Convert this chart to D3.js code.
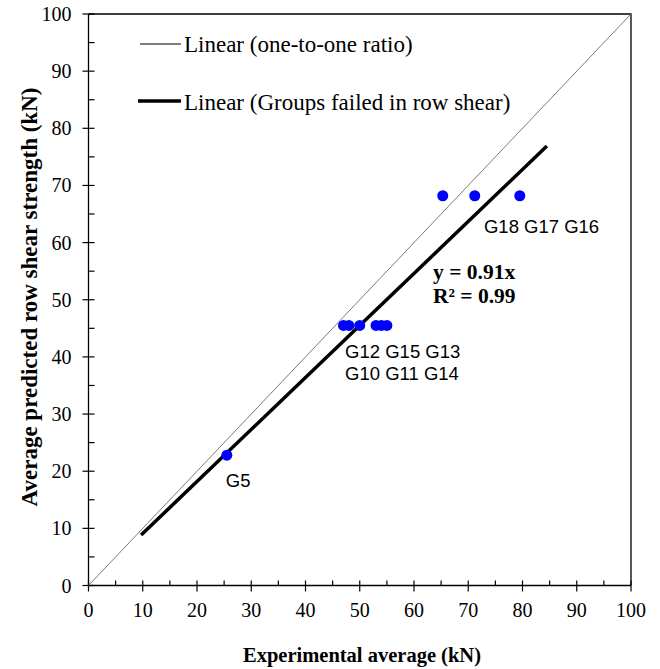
<!DOCTYPE html>
<html>
<head>
<meta charset="utf-8">
<script src="https://cdn.jsdelivr.net/npm/d3@7"></script>
<style>
  body { margin: 0; background: #fff; }
  svg text { fill: #000; }
</style>
</head>
<body>
<svg id="chart" width="660" height="669"></svg>
<script>
// experimental average (kN) vs average predicted row shear strength (kN)
var expValues  = [25.5, 47, 48, 50, 53, 54, 55, 65.3, 71.2, 79.5];
var predValues = [22.8, 45.5, 45.5, 45.5, 45.5, 45.5, 45.5, 68.2, 68.2, 68.2];
var groupLabels = [
  { text: "G5", x: 25.3, y: 22.8 },
  { text: "G12 G15 G13", x: 47.3, y: 45.5 },
  { text: "G10 G11 G14", x: 47.3, y: 45.5 },
  { text: "G18 G17 G16", x: 72.9, y: 68.2 }
];
var oneToOne = [0, 100];
var fitSlope = 0.91;
var fitRange = [9.7, 84.5];
var tickValues = [0, 10, 20, 30, 40, 50, 60, 70, 80, 90, 100];
var minorTicks = d3.range(5, 100, 10);

var serif = "'Liberation Serif', 'Times New Roman', serif";
var svg = d3.select("#chart");
var x = d3.scaleLinear().domain([0, 100]).range([88.5, 631]);
var y = d3.scaleLinear().domain([0, 100]).range([585.5, 14]);

// frame (top and right)
svg.append("path")
    .attr("d", "M" + x(0) + "," + y(100) + "H" + x(100) + "V" + y(0))
    .attr("fill", "none")
    .attr("stroke", "#000")
    .attr("stroke-width", 1.3);

// axes
var xAxis = svg.append("g").attr("transform", "translate(0," + y(0) + ")");
xAxis.append("line").attr("x1", x(0)).attr("x2", x(100)).attr("stroke", "#000").attr("stroke-width", 1.3);
xAxis.selectAll(".maj").data(tickValues).enter().append("line")
    .attr("x1", d => x(d)).attr("x2", d => x(d)).attr("y1", -5).attr("y2", 6)
    .attr("stroke", "#000").attr("stroke-width", 1.2);
xAxis.selectAll(".min").data(minorTicks).enter().append("line")
    .attr("x1", d => x(d)).attr("x2", d => x(d)).attr("y1", -5).attr("y2", 0)
    .attr("stroke", "#000").attr("stroke-width", 1.2);
xAxis.selectAll("text").data(tickValues).enter().append("text")
    .attr("x", d => x(d)).attr("y", 31.5)
    .attr("text-anchor", "middle")
    .style("font-family", serif)
    .style("font-size", "20px")
    .text(d => d);

var yAxis = svg.append("g").attr("transform", "translate(" + x(0) + ",0)");
yAxis.append("line").attr("y1", y(0)).attr("y2", y(100)).attr("stroke", "#000").attr("stroke-width", 1.3);
yAxis.selectAll(".maj").data(tickValues).enter().append("line")
    .attr("y1", d => y(d)).attr("y2", d => y(d)).attr("x1", -6).attr("x2", 6)
    .attr("stroke", "#000").attr("stroke-width", 1.2);
yAxis.selectAll(".min").data(minorTicks).enter().append("line")
    .attr("y1", d => y(d)).attr("y2", d => y(d)).attr("x1", 0).attr("x2", 6)
    .attr("stroke", "#000").attr("stroke-width", 1.2);
yAxis.selectAll("text").data(tickValues).enter().append("text")
    .attr("x", -17).attr("y", d => y(d) + 7)
    .attr("text-anchor", "end")
    .style("font-family", serif)
    .style("font-size", "20px")
    .text(d => d);

// one-to-one line
svg.append("line")
    .attr("x1", x(oneToOne[0])).attr("y1", y(oneToOne[0]))
    .attr("x2", x(oneToOne[1])).attr("y2", y(oneToOne[1]))
    .attr("stroke", "#7a7a7a").attr("stroke-width", 1);

// fitted line y = 0.91x
svg.append("line")
    .attr("x1", x(fitRange[0])).attr("y1", y(fitRange[0] * fitSlope))
    .attr("x2", x(fitRange[1])).attr("y2", y(fitRange[1] * fitSlope))
    .attr("stroke", "#000").attr("stroke-width", 3.5);

// points
svg.selectAll(".pt").data(expValues).enter().append("circle")
    .attr("cx", d => x(d))
    .attr("cy", (d, i) => y(predValues[i]))
    .attr("r", 5.5)
    .attr("fill", "#0000ff");

// group labels
var labelDy = [31.5, 32.5, 55, 37.5];
svg.selectAll(".glab").data(groupLabels).enter().append("text")
    .attr("x", d => x(d.x))
    .attr("y", (d, i) => y(d.y) + labelDy[i])
    .style("font-family", "'Liberation Sans', Arial, sans-serif")
    .style("font-size", "18.5px")
    .text(d => d.text);

// equation
var eq = svg.append("g")
    .style("font-family", serif)
    .style("font-size", "21.5px")
    .style("font-weight", "bold");
eq.append("text").attr("x", 433).attr("y", 278.5).text("y = 0.91x");
eq.append("text").attr("x", 433).attr("y", 302.5).text("R² = 0.99");

// legend
var legend = svg.append("g")
    .style("font-family", serif)
    .style("font-size", "23px");
legend.append("line").attr("x1", 140).attr("x2", 181).attr("y1", 44).attr("y2", 44)
    .attr("stroke", "#000").attr("stroke-width", 1);
legend.append("text").attr("x", 184).attr("y", 52).text("Linear (one-to-one ratio)");
legend.append("line").attr("x1", 138).attr("x2", 181).attr("y1", 101).attr("y2", 101)
    .attr("stroke", "#000").attr("stroke-width", 3.5);
legend.append("text").attr("x", 184).attr("y", 110).text("Linear (Groups failed in row shear)");

// axis titles
svg.append("text")
    .attr("x", 362).attr("y", 662)
    .attr("text-anchor", "middle")
    .style("font-family", serif)
    .style("font-size", "20.5px")
    .style("font-weight", "bold")
    .text("Experimental average (kN)");
svg.append("text")
    .attr("transform", "translate(37,297) rotate(-90)")
    .attr("text-anchor", "middle")
    .style("font-family", serif)
    .style("font-size", "23px")
    .style("font-weight", "bold")
    .text("Average predicted row shear strength (kN)");
</script>
</body>
</html>
